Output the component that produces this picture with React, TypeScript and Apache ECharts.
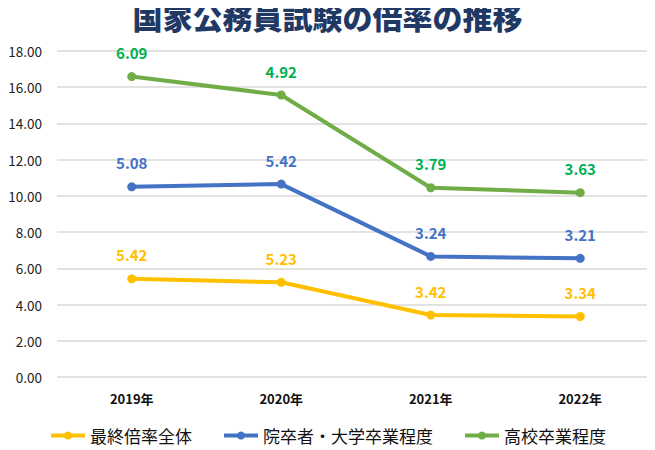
import React, { useEffect, useRef } from "react";
import * as echarts from "echarts";

const categories = ["2019年", "2020年", "2021年", "2022年"];
const overall = [5.42, 5.23, 3.42, 3.34];
const graduate = [5.08, 5.42, 3.24, 3.21];
const highSchool = [6.09, 4.92, 3.79, 3.63];
const seriesNames = ["最終倍率全体", "院卒者・大学卒業程度", "高校卒業程度"];

const JP = '"Noto Sans CJK JP", "Noto Sans", sans-serif';

export default function App() {
  const ref = useRef<HTMLDivElement>(null);
  useEffect(() => {
    if (!ref.current) return;
    const chart = echarts.init(ref.current, null, { renderer: "svg" });
    const mk = (name: string, data: number[], lineColor: string, labelColor: string) => ({
      name,
      type: "line",
      stack: "total",
      data,
      symbol: "circle",
      symbolSize: 9,
      lineStyle: { width: 4, color: lineColor },
      itemStyle: { color: lineColor },
      label: {
        show: true,
        position: "top",
        distance: 12,
        color: labelColor,
        fontSize: 15,
        fontWeight: "bold",
        fontFamily: JP,
        formatter: (p: any) => Number(p.value).toFixed(2),
      },
    });
    chart.setOption({
      animation: false,
      title: {
        text: "国家公務員試験の倍率の推移",
        left: "center",
        top: -4,
        textStyle: { fontSize: 30, fontWeight: 900, color: "#1F3864", fontFamily: JP },
      },
      grid: { left: 57, right: -2, top: 51, height: 326 },
      xAxis: {
        type: "category",
        data: categories,
        boundaryGap: true,
        axisLine: { show: false },
        axisTick: { show: false },
        axisLabel: { color: "#111", fontSize: 13, fontWeight: "bold", fontFamily: JP, margin: 15 },
      },
      yAxis: {
        type: "value",
        min: 0,
        max: 18,
        interval: 2,
        axisLine: { show: false },
        axisTick: { show: false },
        splitLine: { lineStyle: { color: "#d9d9d9", width: 1.5 } },
        axisLabel: {
          color: "#222",
          fontSize: 13.5,
          fontFamily: JP,
          margin: 15,
          formatter: (v: number) => v.toFixed(2),
        },
      },
      legend: {
        bottom: 1,
        left: "center",
        itemWidth: 34,
        itemHeight: 10,
        itemGap: 30,
        lineStyle: { width: 4 },
        textStyle: { fontSize: 17, color: "#111", fontFamily: JP },
        data: seriesNames,
      },
      series: [
        mk(seriesNames[0], overall, "#FFC000", "#FFC000"),
        mk(seriesNames[1], graduate, "#4472C4", "#4472C4"),
        mk(seriesNames[2], highSchool, "#70AD47", "#00B050"),
      ],
    });
    return () => chart.dispose();
  }, []);
  return <div ref={ref} style={{ width: 655, height: 450, marginLeft: -8, marginTop: -8 }} />;
}
